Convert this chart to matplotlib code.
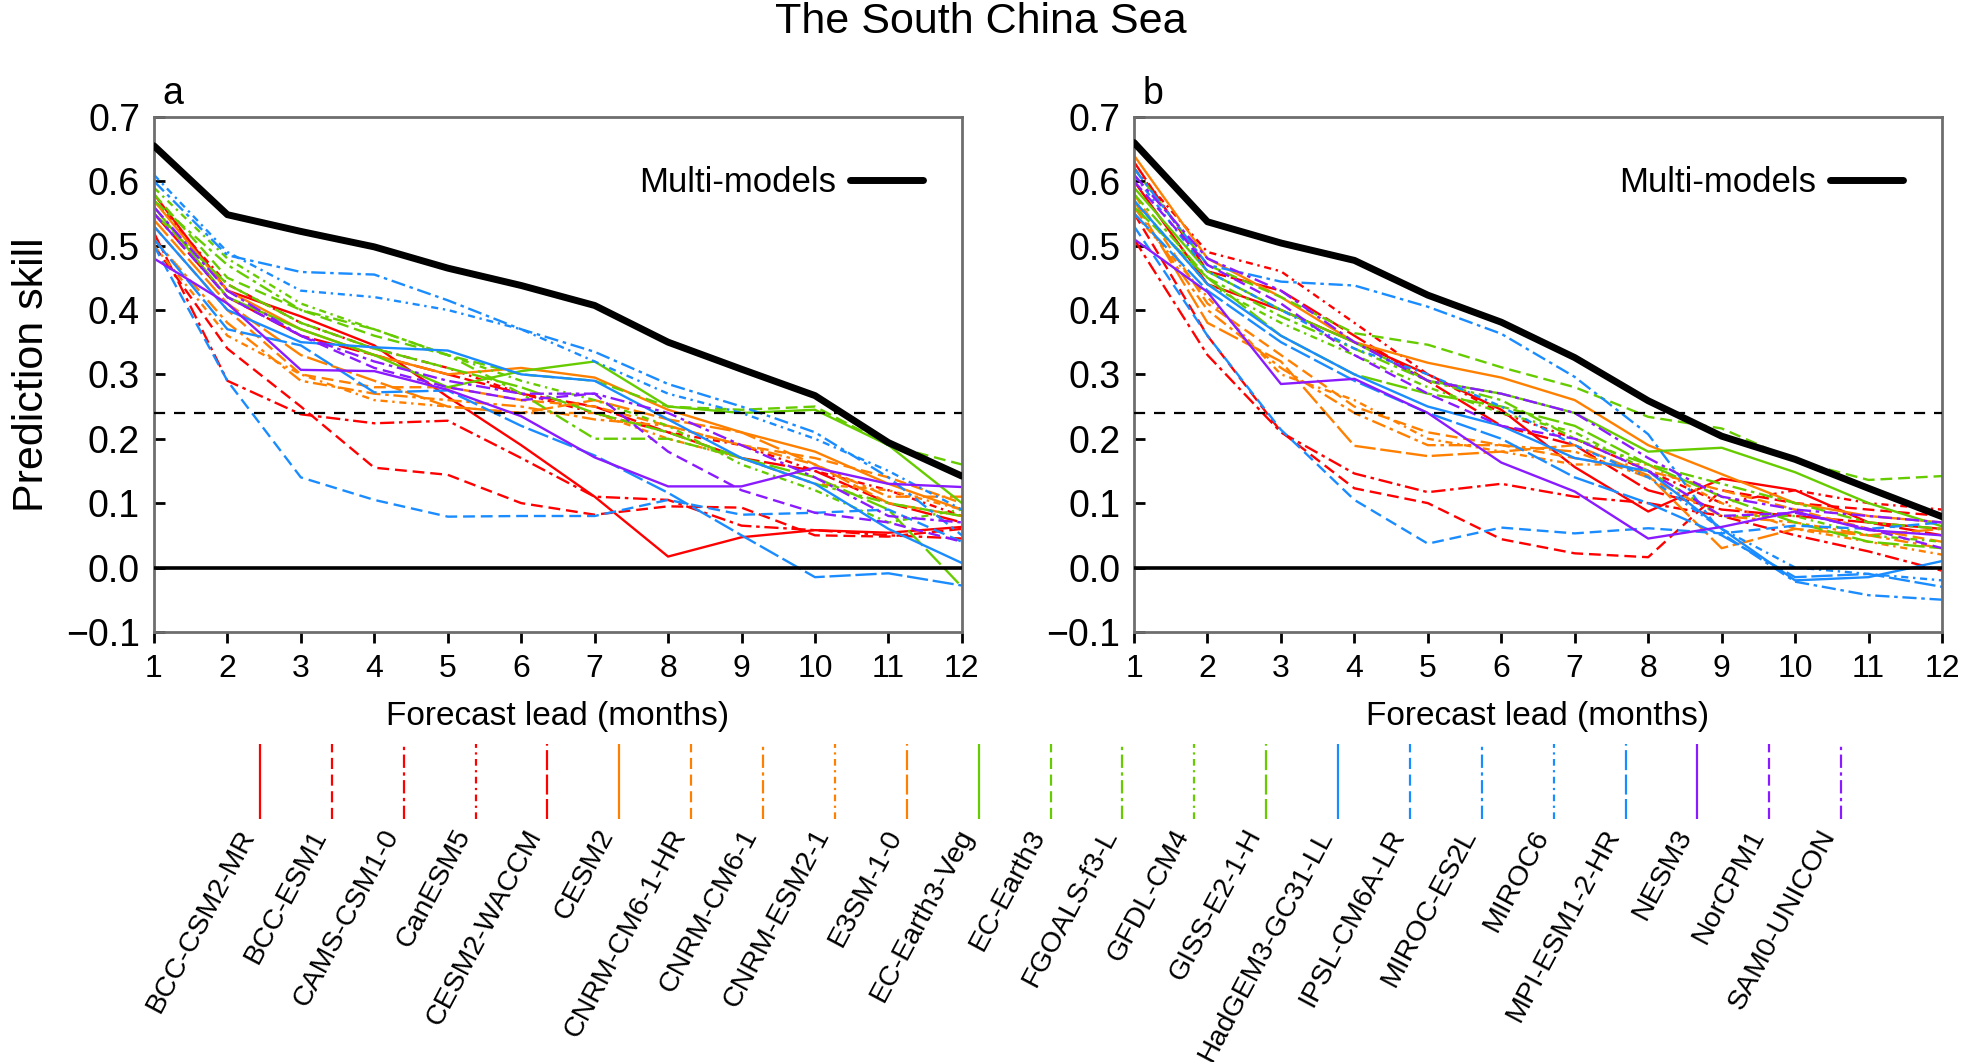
import matplotlib
matplotlib.use("Agg")
import matplotlib.pyplot as plt
import numpy as np

plt.rcParams['font.family'] = ['Liberation Sans', 'DejaVu Sans']

# Forecast leads
leads = list(range(1, 13))

models = ['BCC-CSM2-MR', 'BCC-ESM1', 'CAMS-CSM1-0', 'CanESM5', 'CESM2-WACCM',
          'CESM2', 'CNRM-CM6-1-HR', 'CNRM-CM6-1', 'CNRM-ESM2-1', 'E3SM-1-0',
          'EC-Earth3-Veg', 'EC-Earth3', 'FGOALS-f3-L', 'GFDL-CM4', 'GISS-E2-1-H',
          'HadGEM3-GC31-LL', 'IPSL-CM6A-LR', 'MIROC-ES2L', 'MIROC6', 'MPI-ESM1-2-HR',
          'NESM3', 'NorCPM1', 'SAM0-UNICON']

group_colors = ['#ff0000', '#ff8000', '#66cc00', '#1a8cff', '#8a1aff']
group_styles = ['-', (0, (5, 2.5)), (0, (6, 2, 1.5, 2)), (0, (3, 2, 1, 2)), (0, (9, 2))]

# multi-model skill
multi_a = [0.655, 0.548, 0.522, 0.498, 0.465, 0.438, 0.407, 0.350, 0.308, 0.267, 0.194, 0.142]
multi_b = [0.660, 0.537, 0.504, 0.477, 0.423, 0.381, 0.326, 0.259, 0.204, 0.168, 0.123, 0.079]

# panel a, one row per model
skill_a = [
    [0.58, 0.43, 0.39, 0.345, 0.265, 0.19, 0.11, 0.017, 0.047, 0.058, 0.054, 0.063],
    [0.50, 0.34, 0.25, 0.155, 0.144, 0.10, 0.082, 0.095, 0.093, 0.05, 0.048, 0.06],
    [0.52, 0.29, 0.238, 0.224, 0.228, 0.17, 0.11, 0.105, 0.065, 0.058, 0.05, 0.045],
    [0.57, 0.44, 0.38, 0.34, 0.31, 0.27, 0.24, 0.21, 0.19, 0.15, 0.12, 0.08],
    [0.55, 0.42, 0.36, 0.33, 0.30, 0.27, 0.25, 0.21, 0.17, 0.15, 0.10, 0.07],
    [0.57, 0.43, 0.37, 0.33, 0.30, 0.31, 0.295, 0.245, 0.21, 0.18, 0.13, 0.09],
    [0.53, 0.40, 0.30, 0.28, 0.28, 0.26, 0.25, 0.22, 0.19, 0.17, 0.14, 0.10],
    [0.51, 0.38, 0.29, 0.27, 0.26, 0.25, 0.23, 0.22, 0.19, 0.16, 0.11, 0.11],
    [0.50, 0.36, 0.30, 0.26, 0.25, 0.24, 0.24, 0.20, 0.17, 0.13, 0.12, 0.09],
    [0.54, 0.41, 0.33, 0.29, 0.25, 0.24, 0.26, 0.23, 0.21, 0.16, 0.10, 0.08],
    [0.56, 0.42, 0.37, 0.33, 0.28, 0.305, 0.32, 0.25, 0.24, 0.245, 0.19, 0.10],
    [0.58, 0.45, 0.40, 0.36, 0.33, 0.30, 0.29, 0.25, 0.245, 0.25, 0.19, 0.16],
    [0.57, 0.47, 0.40, 0.37, 0.33, 0.27, 0.20, 0.20, 0.17, 0.13, 0.10, 0.08],
    [0.59, 0.48, 0.41, 0.37, 0.33, 0.29, 0.26, 0.22, 0.16, 0.12, 0.07, 0.09],
    [0.55, 0.44, 0.38, 0.34, 0.31, 0.28, 0.24, 0.21, 0.17, 0.14, 0.09, -0.03],
    [0.53, 0.40, 0.35, 0.342, 0.337, 0.30, 0.29, 0.23, 0.17, 0.13, 0.06, 0.007],
    [0.50, 0.29, 0.14, 0.105, 0.079, 0.080, 0.080, 0.105, 0.082, 0.085, 0.09, 0.04],
    [0.60, 0.485, 0.459, 0.455, 0.415, 0.37, 0.335, 0.285, 0.25, 0.21, 0.14, 0.05],
    [0.61, 0.49, 0.43, 0.42, 0.40, 0.37, 0.32, 0.27, 0.24, 0.20, 0.15, 0.09],
    [0.51, 0.37, 0.345, 0.272, 0.275, 0.22, 0.174, 0.116, 0.05, -0.015, -0.009, -0.028],
    [0.48, 0.41, 0.307, 0.305, 0.276, 0.235, 0.171, 0.126, 0.126, 0.155, 0.13, 0.125],
    [0.55, 0.42, 0.36, 0.31, 0.28, 0.26, 0.27, 0.18, 0.12, 0.085, 0.07, 0.04],
    [0.56, 0.43, 0.36, 0.32, 0.29, 0.27, 0.27, 0.24, 0.19, 0.14, 0.08, 0.07],
]

# panel b
skill_b = [
    [0.60, 0.44, 0.40, 0.35, 0.30, 0.245, 0.156, 0.087, 0.138, 0.12, 0.07, 0.06],
    [0.55, 0.36, 0.211, 0.123, 0.10, 0.044, 0.022, 0.016, 0.12, 0.10, 0.09, 0.08],
    [0.51, 0.33, 0.21, 0.146, 0.117, 0.13, 0.11, 0.10, 0.08, 0.05, 0.025, -0.005],
    [0.62, 0.49, 0.46, 0.38, 0.30, 0.24, 0.20, 0.15, 0.10, 0.12, 0.10, 0.09],
    [0.63, 0.46, 0.43, 0.36, 0.29, 0.22, 0.19, 0.12, 0.09, 0.08, 0.07, 0.05],
    [0.64, 0.48, 0.42, 0.35, 0.318, 0.295, 0.26, 0.19, 0.145, 0.10, 0.08, 0.07],
    [0.58, 0.41, 0.33, 0.25, 0.21, 0.19, 0.17, 0.15, 0.12, 0.09, 0.06, 0.04],
    [0.56, 0.40, 0.31, 0.24, 0.19, 0.19, 0.18, 0.14, 0.08, 0.07, 0.05, 0.03],
    [0.55, 0.42, 0.30, 0.26, 0.20, 0.18, 0.16, 0.16, 0.10, 0.06, 0.04, 0.02],
    [0.57, 0.38, 0.32, 0.189, 0.173, 0.18, 0.19, 0.143, 0.03, 0.06, 0.05, 0.06],
    [0.59, 0.46, 0.40, 0.35, 0.29, 0.27, 0.24, 0.18, 0.186, 0.148, 0.10, 0.064],
    [0.62, 0.47, 0.42, 0.364, 0.346, 0.311, 0.28, 0.234, 0.216, 0.166, 0.136, 0.142],
    [0.58, 0.45, 0.39, 0.34, 0.29, 0.26, 0.20, 0.16, 0.13, 0.10, 0.07, 0.06],
    [0.57, 0.44, 0.38, 0.33, 0.28, 0.24, 0.21, 0.15, 0.08, 0.08, 0.05, 0.04],
    [0.56, 0.45, 0.36, 0.30, 0.27, 0.25, 0.22, 0.16, 0.11, 0.07, 0.04, 0.03],
    [0.57, 0.44, 0.36, 0.30, 0.25, 0.22, 0.17, 0.15, 0.06, -0.02, -0.015, 0.01],
    [0.53, 0.36, 0.214, 0.105, 0.037, 0.062, 0.053, 0.061, 0.053, 0.065, 0.06, 0.07],
    [0.62, 0.47, 0.444, 0.438, 0.405, 0.363, 0.296, 0.207, 0.053, -0.022, -0.043, -0.05],
    [0.61, 0.46, 0.40, 0.34, 0.30, 0.25, 0.19, 0.14, 0.06, 0.0, -0.01, -0.02],
    [0.55, 0.43, 0.35, 0.29, 0.24, 0.20, 0.14, 0.10, 0.05, -0.015, -0.01, -0.03],
    [0.51, 0.428, 0.285, 0.293, 0.24, 0.163, 0.118, 0.045, 0.063, 0.087, 0.058, 0.05],
    [0.60, 0.47, 0.41, 0.33, 0.27, 0.22, 0.20, 0.15, 0.08, 0.085, 0.06, 0.03],
    [0.61, 0.48, 0.43, 0.35, 0.29, 0.27, 0.24, 0.17, 0.11, 0.09, 0.08, 0.07],
]

threshold = 0.24
yticks = [-0.1, 0.0, 0.1, 0.2, 0.3, 0.4, 0.5, 0.6, 0.7]
ytick_labels = ['\u22120.1', '0.0', '0.1', '0.2', '0.3', '0.4', '0.5', '0.6', '0.7']


def style_of(i):
    if i < 20:
        return group_colors[i // 5], group_styles[i % 5]
    return group_colors[4], group_styles[i - 20]


fig = plt.figure(figsize=(19.61, 10.62), dpi=100)
ax_a = fig.add_axes([0.0785, 0.405, 0.412, 0.485])
ax_b = fig.add_axes([0.5783, 0.405, 0.412, 0.485])

for ax, data, multi, tag in [(ax_a, skill_a, multi_a, 'a'), (ax_b, skill_b, multi_b, 'b')]:
    for i, vals in enumerate(data):
        c, ls = style_of(i)
        ax.plot(leads, vals, color=c, linestyle=ls, linewidth=1.7)
    ax.axhline(0, color='black', linewidth=2.6, zorder=3)
    ax.axhline(threshold, color='black', linestyle=(0, (5, 4)), linewidth=1.6, zorder=3)
    ax.plot(leads, multi, color='black', linewidth=5, solid_capstyle='round',
            label='Multi-models', zorder=4)
    ax.set_xlim(1, 12)
    ax.set_ylim(-0.1, 0.7)
    ax.set_xticks(leads)
    ax.set_yticks(yticks)
    ax.set_yticklabels(ytick_labels)
    ax.tick_params(axis='x', direction='out', length=8, width=2, pad=8, labelsize=23)
    ax.tick_params(axis='y', direction='in', length=8, width=2, pad=10, labelsize=27)
    for sp in ax.spines.values():
        sp.set_color('#6e6e6e')
        sp.set_linewidth(2)
    ax.set_xlabel('Forecast lead (months)', fontsize=24, labelpad=12)
    ax.text(0.01, 1.01, tag, transform=ax.transAxes, fontsize=27, ha='left', va='bottom')
    ax.legend(loc='upper right', bbox_to_anchor=(0.99, 0.965), frameon=False,
              markerfirst=False, fontsize=25, handlelength=2.1, handletextpad=0.4)

ax_a.set_ylabel('Prediction skill', fontsize=31, labelpad=10)

fig.suptitle('The South China Sea', fontsize=31, y=0.998, va='top')

# model legend row
ax_l = fig.add_axes([0.1142, 0.2288, 0.843, 0.0706])
ax_l.set_xlim(0, len(models))
ax_l.set_ylim(0, 1)
ax_l.axis('off')
for i, name in enumerate(models):
    c, ls = style_of(i)
    ax_l.plot([i + 0.5, i + 0.5], [0, 1], color=c, linestyle=ls, linewidth=1.6)
    ax_l.text(i + 0.5, -0.08, name, rotation=62, ha='right', va='top', fontsize=20.5)

fig.savefig('out.png', dpi=100)
